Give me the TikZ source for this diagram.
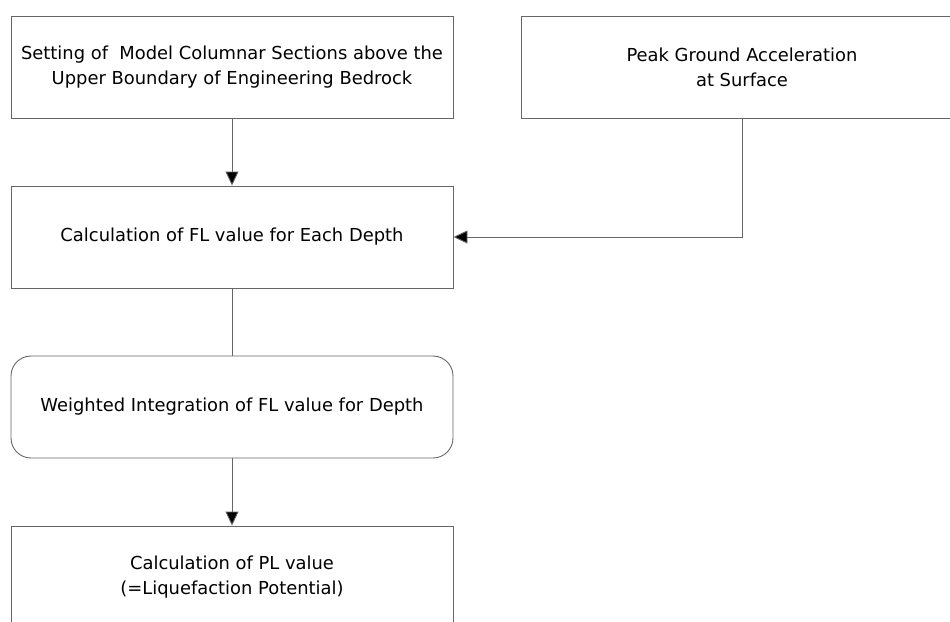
\documentclass[tikz,border=0pt]{standalone}
\usepackage{fontspec}
\setmainfont{DejaVu Sans}
\usetikzlibrary{arrows.meta}
\begin{document}
\begin{tikzpicture}[x=1pt,y=-1pt,
  box/.style={draw=black!60, line width=0.9pt, minimum width=442pt, minimum height=102pt,
    inner sep=0pt, align=center, font=\fontsize{17.9}{25}\selectfont},
  rbox/.style={box, rounded corners=20pt},
  conn/.style={draw=black!60, line width=0.9pt},
  arr/.style={conn, -{Triangle[length=14pt,width=13pt,fill=black]}}
]
\clip (0,0) rectangle (950,621);
\fill[white] (0,0) rectangle (950,621);
\node[box] (b1) at (232,67) {Setting of\ \ Model Columnar Sections above the\\Upper Boundary of Engineering Bedrock};
\node[box] (b2) at (742,67) {Peak Ground Acceleration\\at Surface};
\node[box] (b3) at (232,237) {Calculation of FL value for Each Depth};
\node[rbox] (b4) at (232,407) {Weighted Integration of FL value for Depth};
\node[box] (b5) at (232,577) {Calculation of PL value\\(=Liquefaction Potential)};
\draw[arr] (b1) -- (b3);
\draw[arr] (b2.south) |- (b3.east);
\draw[conn] (b3) -- (b4);
\draw[arr] (b4) -- (b5);
\end{tikzpicture}
\end{document}
